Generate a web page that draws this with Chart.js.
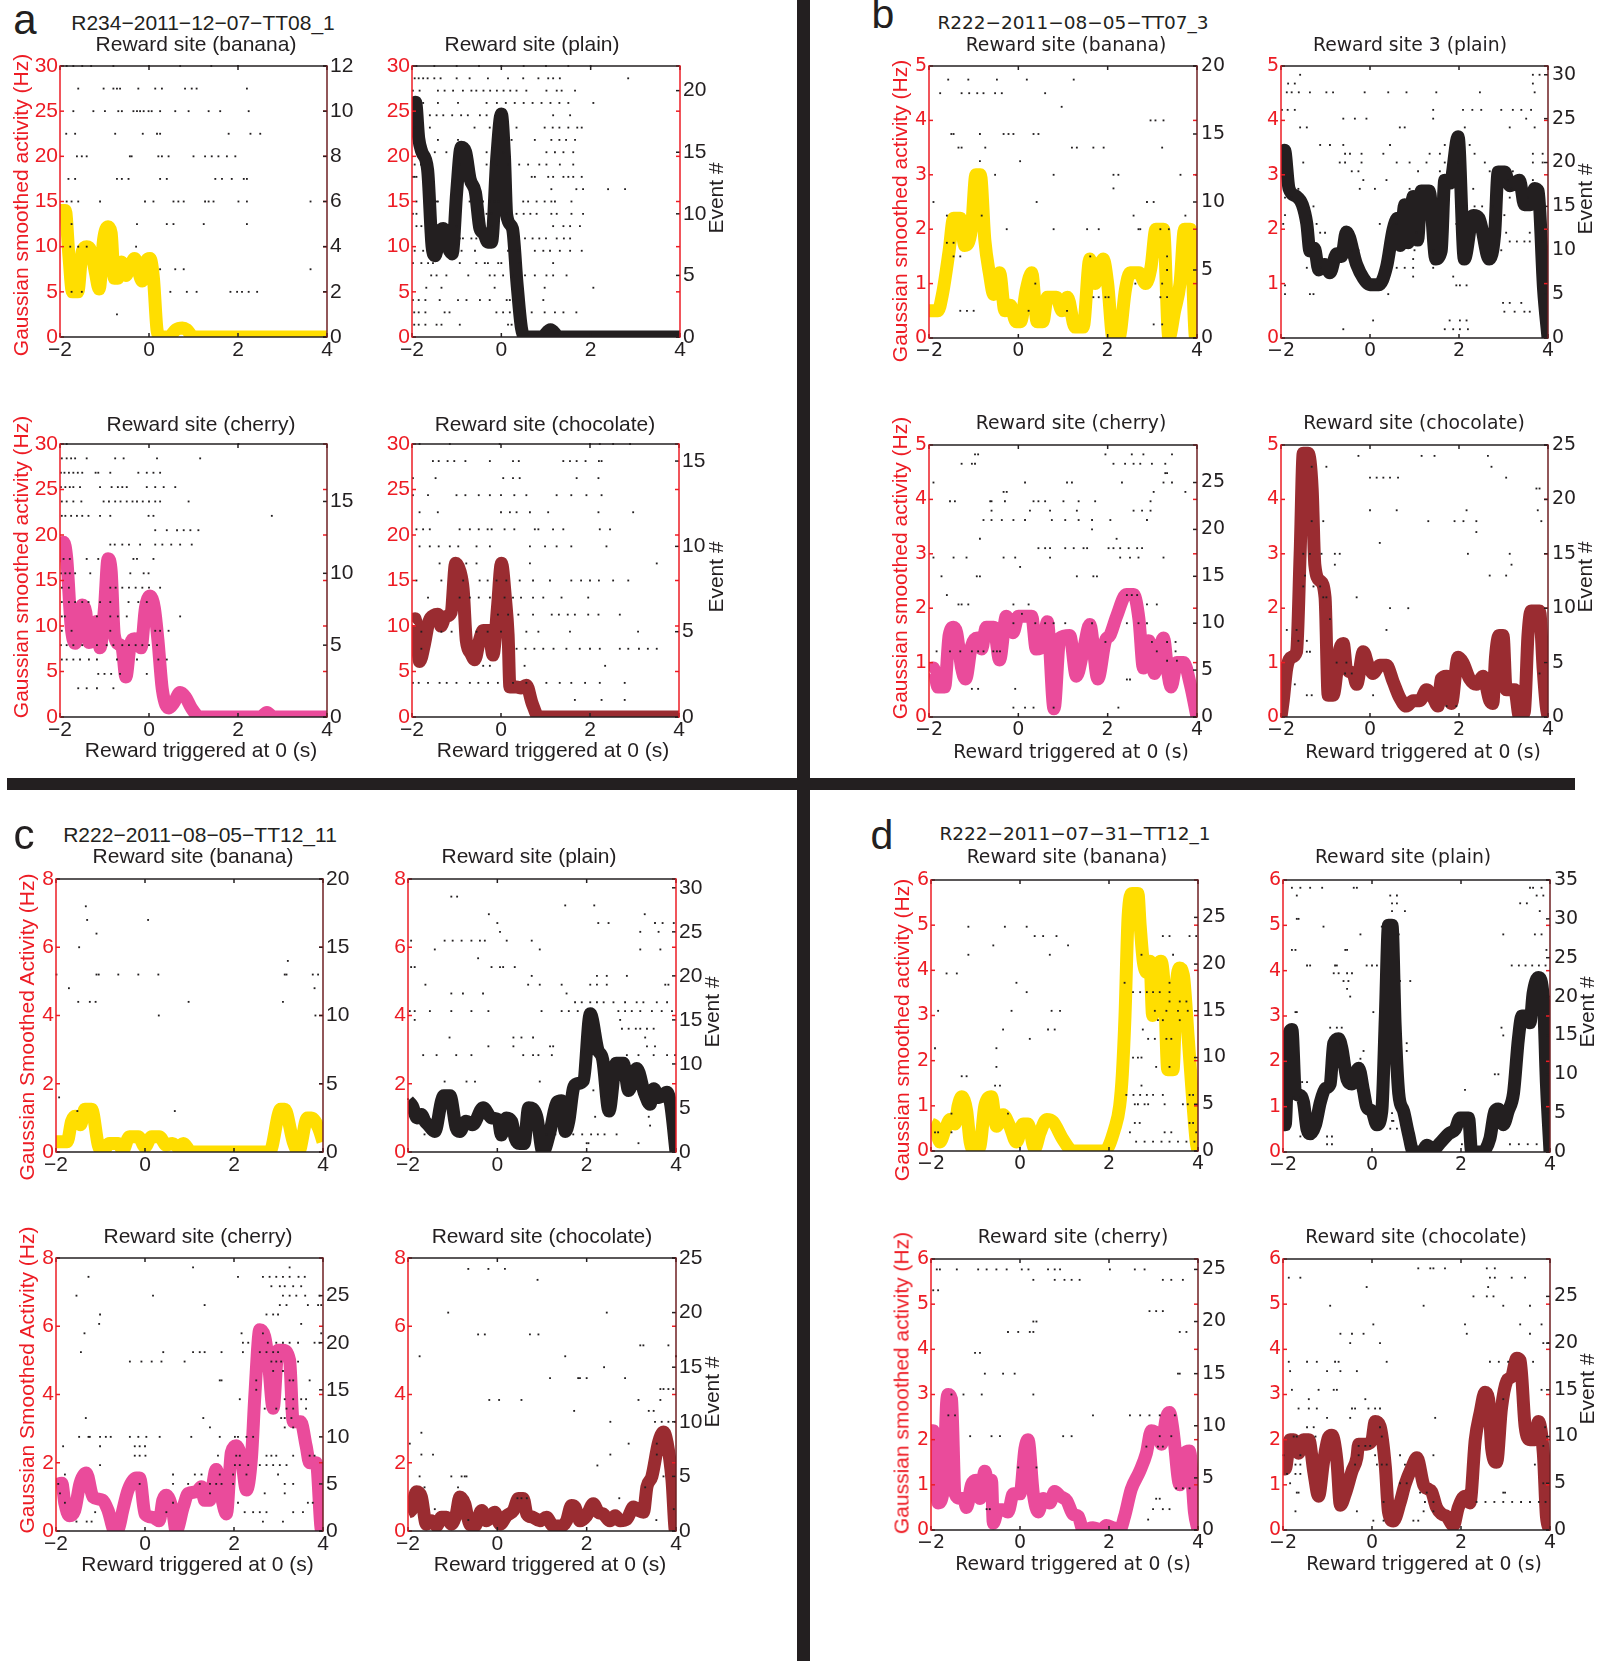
<!DOCTYPE html>
<html lang="en">
<head>
<meta charset="UTF-8">
<title>Reward-triggered activity</title>
<script src="https://cdn.jsdelivr.net/npm/chart.js@4.4.1/dist/chart.umd.min.js"></script>
<style>
  * { margin: 0; padding: 0; box-sizing: border-box; }
  body { width: 1598px; height: 1661px; background: #fff; position: relative; overflow: hidden; }
  .plot { position: absolute; }
  .txt { position: absolute; white-space: nowrap; line-height: 1; }
  .bar { position: absolute; background: #231f20; }
</style>
</head>
<body>
<div class="bar" style="left:797px;top:0;width:13px;height:1661px"></div>
<div class="bar" style="left:7px;top:778px;width:1568px;height:12px"></div>
<script>
// ---- axis ticks ----
const timeTicks = [-2, 0, 2, 4];
const hzTicksA = [0, 5, 10, 15, 20, 25, 30];
const hzTicksB = [0, 1, 2, 3, 4, 5];
const hzTicksC = [0, 2, 4, 6, 8];
const hzTicksD = [0, 1, 2, 3, 4, 5, 6];
const evTicks12 = [0, 2, 4, 6, 8, 10, 12];
const evTicks15 = [0, 5, 10, 15];
const evTicks20 = [0, 5, 10, 15, 20];
const evTicks25 = [0, 5, 10, 15, 20, 25];
const evTicks30 = [0, 5, 10, 15, 20, 25, 30];
const evTicks35 = [0, 5, 10, 15, 20, 25, 30, 35];

// ---- smoothed rate, [time (s), Hz] ----
const aBananaRate = [[-2,14],[-1.88,14],[-1.8,9],[-1.72,5],[-1.6,5],[-1.5,9.5],[-1.4,10],[-1.3,9.5],[-1.2,7],[-1.12,5.3],[-1.02,10.8],[-0.92,12.2],[-0.85,11.5],[-0.78,6.5],[-0.7,6.5],[-0.62,8.3],[-0.52,6.8],[-0.45,7.5],[-0.32,8.7],[-0.25,7.5],[-0.15,6.2],[-0.05,8.5],[0.02,8.7],[0.1,6.5],[0.18,0.8],[0.25,0],[0.45,0],[0.6,0.8],[0.75,1],[0.85,0.8],[1.0,0],[4,0]];
const aPlainRate = [[-2,24],[-1.92,26],[-1.85,22],[-1.78,20.5],[-1.65,18.5],[-1.55,10],[-1.48,9],[-1.38,11.5],[-1.3,12],[-1.2,10],[-1.1,9.2],[-1.0,16],[-0.9,21],[-0.8,20.5],[-0.7,17.5],[-0.58,16],[-0.48,12],[-0.4,11.5],[-0.3,10.5],[-0.22,10.5],[-0.1,20],[0.0,24.7],[0.07,20],[0.12,13.5],[0.25,12],[0.35,6],[0.45,1],[0.55,0],[0.9,0],[1.1,0.8],[1.3,0],[4,0]];
const aCherryRate = [[-2,17],[-1.92,19.2],[-1.85,17.5],[-1.75,10],[-1.66,8.1],[-1.58,10.5],[-1.5,12.3],[-1.42,11.5],[-1.35,8.2],[-1.25,8.5],[-1.18,10.5],[-1.1,7.6],[-1.0,12],[-0.92,17.4],[-0.85,16],[-0.78,9],[-0.68,8],[-0.6,7.5],[-0.52,4.4],[-0.42,8],[-0.33,8.6],[-0.25,8.5],[-0.18,7.6],[-0.08,12],[0.02,13.3],[0.12,12],[0.2,8.5],[0.3,3],[0.45,1],[0.55,1.5],[0.7,2.7],[0.82,2.2],[0.95,1],[1.15,0],[2.5,0],[2.65,0.5],[2.8,0],[4,0]];
const aChocRate = [[-2,10.5],[-1.93,10.8],[-1.83,6.1],[-1.72,8],[-1.62,10.5],[-1.5,11.2],[-1.42,11.3],[-1.35,10],[-1.25,11],[-1.12,11.5],[-1.02,16.9],[-0.92,16],[-0.85,14],[-0.78,8.4],[-0.68,7],[-0.59,6.3],[-0.48,8.5],[-0.4,9.5],[-0.28,9.5],[-0.18,6.8],[-0.08,12],[0.01,16.9],[0.1,13],[0.16,9],[0.2,3.3],[0.35,3.3],[0.45,3.2],[0.57,3.5],[0.7,1.5],[0.85,0],[4,0]];
const bBananaRate = [[-2,0.5],[-1.8,0.5],[-1.7,0.8],[-1.55,1.6],[-1.45,2.2],[-1.3,2.2],[-1.2,1.7],[-1.05,2.0],[-0.95,3.0],[-0.85,3.0],[-0.75,1.8],[-0.65,1.2],[-0.55,0.8],[-0.42,1.2],[-0.3,0.5],[-0.18,0.6],[-0.05,0.3],[0.05,0.3],[0.18,0.9],[0.3,1.2],[0.42,0.3],[0.55,0.3],[0.65,0.75],[0.85,0.75],[0.98,0.5],[1.1,0.75],[1.27,0.2],[1.45,0.2],[1.6,1.45],[1.72,1.0],[1.9,1.45],[2.0,1.0],[2.12,0],[2.25,0],[2.4,0.9],[2.5,1.2],[2.7,1.2],[2.85,1.0],[2.97,1.3],[3.08,2.0],[3.25,2.0],[3.37,0],[3.5,0.5],[3.62,1.0],[3.72,2.0],[3.85,2.0],[3.97,0],[4,0]];
const bPlainRate = [[-2,3.1],[-1.92,3.45],[-1.82,2.75],[-1.65,2.6],[-1.52,2.45],[-1.42,2.1],[-1.35,1.6],[-1.25,1.65],[-1.15,1.25],[-1.02,1.35],[-0.9,1.2],[-0.75,1.55],[-0.64,1.5],[-0.53,1.95],[-0.3,1.35],[-0.15,1.1],[0.0,0.98],[0.2,0.98],[0.37,1.3],[0.52,2.0],[0.62,2.2],[0.68,1.7],[0.78,2.45],[0.86,1.75],[0.97,2.6],[1.07,1.8],[1.15,2.7],[1.33,2.7],[1.48,1.45],[1.6,1.6],[1.68,2.9],[1.8,2.85],[1.98,3.7],[2.12,1.45],[2.32,2.25],[2.45,2.2],[2.68,1.45],[2.8,1.9],[2.88,3.05],[3.03,3.05],[3.14,2.8],[3.36,2.9],[3.47,2.45],[3.6,2.45],[3.7,2.75],[3.78,2.7],[3.9,0.9],[4,0]];
const bCherryRate = [[-2,0.85],[-1.9,0.9],[-1.8,0.55],[-1.65,0.55],[-1.55,1.5],[-1.45,1.65],[-1.38,1.55],[-1.27,0.9],[-1.18,0.7],[-1.05,1.3],[-0.92,1.45],[-0.82,1.25],[-0.72,1.65],[-0.55,1.65],[-0.42,1.05],[-0.27,1.85],[-0.12,1.55],[0.0,1.85],[0.3,1.85],[0.4,1.25],[0.55,1.3],[0.65,1.75],[0.8,0.15],[0.93,1.45],[1.15,1.5],[1.3,0.75],[1.45,1.2],[1.6,1.7],[1.78,0.7],[1.95,1.4],[2.05,1.5],[2.2,1.85],[2.42,2.25],[2.58,2.25],[2.7,1.8],[2.8,0.9],[2.92,1.4],[3.05,0.8],[3.15,1.2],[3.25,1.45],[3.35,0.8],[3.42,0.55],[3.55,1.0],[3.7,1.0],[3.85,0.6],[4,0]];
const bChocRate = [[-2,0],[-1.95,0.3],[-1.87,0.9],[-1.76,1.1],[-1.65,1.2],[-1.57,3.0],[-1.5,4.85],[-1.39,4.85],[-1.3,4.2],[-1.24,2.8],[-1.12,2.5],[-1.01,2.2],[-0.94,0.4],[-0.83,0.4],[-0.68,1.25],[-0.6,1.35],[-0.53,0.9],[-0.38,0.8],[-0.3,0.6],[-0.15,1.2],[-0.04,0.95],[0.07,0.8],[0.22,0.95],[0.37,0.95],[0.52,0.65],[0.67,0.35],[0.82,0.2],[0.97,0.3],[1.12,0.3],[1.27,0.5],[1.42,0.35],[1.53,0.2],[1.6,0.7],[1.72,0.75],[1.83,0.25],[1.98,1.1],[2.09,1.0],[2.24,0.7],[2.39,0.6],[2.54,0.75],[2.69,0.3],[2.76,0.25],[2.82,1.1],[2.9,1.5],[2.99,1.5],[3.06,0.5],[3.25,0.5],[3.36,0],[3.47,0.1],[3.55,1.5],[3.62,1.95],[3.81,1.95],[3.89,0.9],[3.96,0.2],[4,0]];
const cBananaRate = [[-2,0.3],[-1.75,0.3],[-1.65,0.9],[-1.57,1.05],[-1.45,0.8],[-1.35,1.25],[-1.2,1.25],[-1.05,0.2],[-0.95,0],[-0.8,0.25],[-0.6,0.25],[-0.5,0.05],[-0.35,0.45],[-0.15,0.45],[0.0,0.15],[0.15,0.45],[0.32,0.45],[0.48,0.2],[0.62,0.25],[0.74,0.15],[0.86,0.25],[1.04,0],[2.8,0],[3.05,1.25],[3.14,1.25],[3.33,0.3],[3.45,0],[3.65,1.0],[3.74,1.0],[3.9,0.7],[4,0.3]];
const cPlainRate = [[-2,1.5],[-1.9,1.35],[-1.8,1.0],[-1.7,1.1],[-1.62,0.9],[-1.55,0.8],[-1.4,0.6],[-1.25,1.5],[-1.2,1.65],[-1.06,1.65],[-0.92,0.7],[-0.84,0.6],[-0.7,0.9],[-0.55,0.8],[-0.32,1.3],[-0.13,1.0],[0.02,0.95],[0.09,0.5],[0.2,1.0],[0.32,0.9],[0.4,0.4],[0.5,0.25],[0.6,0.25],[0.7,1.3],[0.88,1.05],[1.02,0],[1.18,0.6],[1.33,1.45],[1.44,1.5],[1.52,0.6],[1.6,0.9],[1.7,1.85],[1.78,2.0],[1.93,2.1],[2.08,4.05],[2.25,3.0],[2.36,2.7],[2.5,1.2],[2.66,2.6],[2.82,2.6],[2.94,1.8],[3.12,2.45],[3.3,1.7],[3.42,1.4],[3.5,1.85],[3.62,1.6],[3.8,1.75],[3.88,1.4],[4,0]];
const cCherryRate = [[-2,1.35],[-1.87,1.4],[-1.8,0.8],[-1.7,0.45],[-1.58,0.6],[-1.46,1.4],[-1.32,1.7],[-1.17,1.0],[-0.95,0.9],[-0.83,0.6],[-0.68,0],[-0.6,0.05],[-0.5,0.6],[-0.38,1.2],[-0.2,1.55],[-0.12,1.55],[0.0,0.5],[0.18,0.4],[0.32,0.3],[0.4,0.9],[0.48,1.05],[0.62,0.6],[0.7,0],[0.86,0.7],[0.97,1.1],[1.16,1.15],[1.27,1.3],[1.34,0.9],[1.45,0.9],[1.6,1.8],[1.72,1.0],[1.83,0.5],[1.94,2.3],[2.05,2.5],[2.17,2.1],[2.28,1.2],[2.39,2.1],[2.47,4.0],[2.58,5.9],[2.69,5.7],[2.77,5.0],[2.88,3.6],[2.99,5.3],[3.1,5.3],[3.25,5.0],[3.33,3.2],[3.5,3.2],[3.62,2.5],[3.7,2.0],[3.85,2.0],[3.97,0],[4,0]];
const cChocRate = [[-2,0.55],[-1.93,0.6],[-1.81,1.15],[-1.7,1.0],[-1.59,0.2],[-1.48,0.3],[-1.36,0.15],[-1.25,0.4],[-1.14,0.4],[-1.03,0.2],[-0.92,0.5],[-0.84,1.0],[-0.73,0.8],[-0.62,0.2],[-0.5,0.15],[-0.35,0.6],[-0.24,0.3],[-0.06,0.55],[0.06,0.2],[0.21,0.45],[0.36,0.6],[0.47,0.95],[0.58,0.95],[0.66,0.5],[0.8,0.4],[0.95,0.3],[1.1,0.4],[1.25,0.15],[1.44,0.15],[1.55,0.3],[1.66,0.75],[1.74,0.7],[1.85,0.3],[2.0,0.45],[2.15,0.8],[2.26,0.55],[2.37,0.5],[2.52,0.3],[2.64,0.45],[2.75,0.3],[2.9,0.35],[3.05,0.7],[3.16,0.6],[3.27,0.55],[3.35,1.3],[3.46,1.6],[3.61,2.6],[3.72,2.9],[3.8,2.6],[3.91,1.5],[3.99,0],[4,0]];
const dBananaRate = [[-2,0.6],[-1.91,0.55],[-1.8,0.2],[-1.69,0.45],[-1.57,0.7],[-1.46,0.6],[-1.39,1.0],[-1.31,1.2],[-1.2,0.9],[-1.12,0.2],[-1.01,0],[-0.9,0.1],[-0.79,1.0],[-0.64,1.2],[-0.53,0.55],[-0.38,0.8],[-0.23,0.55],[-0.08,0.2],[0.07,0.6],[0.18,0.6],[0.33,0.05],[0.45,0.4],[0.6,0.7],[0.74,0.65],[0.97,0.25],[1.19,0],[1.9,0],[2.13,0.5],[2.24,1.0],[2.3,1.7],[2.36,3.0],[2.43,5.2],[2.52,5.7],[2.65,5.7],[2.7,5.0],[2.77,4.2],[2.86,3.95],[2.92,4.2],[2.98,3.0],[3.08,4.0],[3.17,4.2],[3.25,3.5],[3.32,1.8],[3.44,1.8],[3.51,3.6],[3.59,4.05],[3.67,3.9],[3.78,2.5],[3.89,1.0],[3.96,0.2],[4,0]];
const dPlainRate = [[-2,0.6],[-1.95,0.6],[-1.87,2.6],[-1.8,2.7],[-1.72,1.3],[-1.61,1.25],[-1.54,1.1],[-1.46,0.5],[-1.39,0.4],[-1.27,0.6],[-1.16,1.1],[-1.05,1.4],[-0.94,1.5],[-0.86,2.4],[-0.75,2.5],[-0.68,2.3],[-0.56,1.6],[-0.45,1.5],[-0.3,1.85],[-0.19,1.35],[-0.12,1.0],[0.0,0.9],[0.11,0.6],[0.22,0.9],[0.3,3.0],[0.37,5.0],[0.45,5.0],[0.52,2.8],[0.6,1.3],[0.71,0.9],[0.82,0.4],[0.93,0],[1.12,0],[1.23,0.15],[1.38,0.05],[1.53,0.2],[1.72,0.4],[1.87,0.5],[1.98,0.75],[2.17,0.75],[2.24,0],[2.47,0],[2.65,0.3],[2.76,0.9],[2.84,0.95],[2.95,0.6],[3.06,0.9],[3.18,1.3],[3.29,2.5],[3.37,3.0],[3.48,3.0],[3.55,2.85],[3.62,3.5],[3.74,3.85],[3.85,3.4],[3.92,1.5],[4,0]];
const dCherryRate = [[-2,2.2],[-1.95,2.2],[-1.84,0.6],[-1.72,0.9],[-1.65,2.8],[-1.61,3.0],[-1.54,2.9],[-1.46,0.8],[-1.35,0.7],[-1.27,0.7],[-1.2,0.5],[-1.09,1.0],[-0.98,1.1],[-0.9,0.7],[-0.79,1.3],[-0.71,1.0],[-0.64,1.1],[-0.6,0.15],[-0.49,0.45],[-0.38,0.45],[-0.27,0.4],[-0.15,0.8],[0.0,0.8],[0.11,1.8],[0.18,2.0],[0.3,0.8],[0.41,0.4],[0.52,0.7],[0.67,0.6],[0.78,0.85],[0.9,0.75],[1.05,0.65],[1.19,0.35],[1.31,0.3],[1.42,0],[1.64,0.05],[1.83,0],[1.94,0.1],[2.09,0.05],[2.24,0],[2.35,0.3],[2.5,0.9],[2.69,1.3],[2.84,1.7],[2.95,2.2],[3.1,2.1],[3.18,1.9],[3.29,2.5],[3.36,2.6],[3.44,2.2],[3.59,1.0],[3.7,1.7],[3.81,1.75],[3.92,0.4],[4,0]];
const dChocRate = [[-2,1.5],[-1.95,1.35],[-1.84,2.0],[-1.76,2.0],[-1.65,1.7],[-1.54,2.0],[-1.42,2.0],[-1.31,1.3],[-1.2,0.75],[-1.09,1.5],[-0.98,2.05],[-0.9,2.1],[-0.79,1.55],[-0.71,0.55],[-0.6,0.8],[-0.45,1.3],[-0.34,1.6],[-0.3,1.9],[-0.12,1.9],[0.0,2.0],[0.07,2.4],[0.18,2.3],[0.3,1.4],[0.37,0.4],[0.48,0.2],[0.63,0.6],[0.74,1.0],[0.9,1.4],[1.01,1.6],[1.16,1.0],[1.27,0.9],[1.34,0.85],[1.45,0.5],[1.57,0.35],[1.68,0.3],[1.83,0.1],[1.94,0.5],[2.09,0.75],[2.2,0.6],[2.32,2.0],[2.43,2.6],[2.54,3.05],[2.62,2.9],[2.69,1.8],[2.8,1.5],[2.91,2.7],[3.03,3.3],[3.14,3.4],[3.25,3.8],[3.33,3.75],[3.44,2.3],[3.55,2.0],[3.66,2.0],[3.74,2.4],[3.85,1.7],[3.92,0.3],[4,0]];

// ---- raster: [event #, spike times (s)...] ----
const aBananaSpikes = [[12,-1.85,-1.7,-1.5,-1.3,-0.8,0.0,0.7,1.4,2.0],[11,-1.59,-1.02,-0.8,-0.72,-0.65,-0.24,0.14,0.29,0.81,0.96,1.07,2.2],[10,-1.7,-1.25,-0.99,-0.69,-0.61,-0.35,-0.27,-0.2,-0.12,-0.01,0.06,0.25,0.59,0.89,1.34,1.6,2.24],[9,-1.86,-1.66,-0.76,-0.14,0.18,0.25,1.79,2.28,2.5],[8,-1.62,-1.51,-1.4,-0.43,-0.39,0.21,0.29,0.44,1.0,1.26,1.41,1.56,1.75,1.94],[7,-1.81,-1.66,-0.72,-0.61,-0.46,0.25,0.4,1.49,1.64,1.86,2.13,2.2],[6,-1.85,-1.74,-1.59,-1.1,-0.09,0.1,0.55,0.66,0.78,1.26,1.34,1.45,2.01,2.2,3.63],[5,-1.74,-0.27,0.4,0.55,1.23,2.2],[4,-1.77,-1.59,-1.4,-0.29],[3,0.25,0.59,0.78,3.63],[2,-1.74,-1.51,0.48,0.85,1.07,1.83,1.98,2.09,2.24,2.43],[1,-0.72]];
const aPlainSpikes = [[22,-1.9,-1.5,-1.0,-0.5,0.0,0.5,1.0,1.5,2.0],[21,-1.94,-1.85,-1.75,-1.65,-1.5,-1.36,-1.0,-0.71,-0.3,0.15,0.49,0.83,1.05,1.16,1.31,2.84],[20,-1.98,-1.83,-1.42,-1.27,-1.08,-0.86,-0.67,-0.56,-0.4,-0.25,-0.1,0.05,0.2,0.34,0.56,1.01,1.24,1.35,1.65],[19,-1.75,-1.42,-0.97,-0.33,-0.1,0.1,0.3,0.5,0.7,0.9,1.1,1.3,1.5,2.06],[18,-1.6,-1.45,-1.3,-1.1,-0.9,-0.75,-0.48,-0.33,1.16,1.54],[17,-1.95,-1.8,-1.6,-0.6,-0.26,-0.07,0.34,0.97,1.15,1.3,1.5,1.7,1.8],[16,-1.42,-0.97,-0.15,0.15,0.23,0.75,1.12,1.3,1.45,1.65],[15,-1.49,-1.23,-0.33,0.04,1.01,1.2,1.39,1.61],[14,-1.94,-1.8,-1.6,-0.93,-0.67,-0.33,-0.1,0.15,0.4,0.6,0.85,1.01,1.31,1.61],[13,-1.98,-1.94,-1.9,0.68,0.75,1.05,1.16,1.39,1.5,1.61,1.8],[12,1.12,1.68,1.83,2.39,2.77],[11,-1.9,-1.45,-1.42,-0.71,-0.48,-0.41,-0.26,-0.15,-0.07,0.49,0.6,0.79,0.97,1.12,1.2,1.57],[10,-1.98,-1.9,-0.63,-0.33,-0.22,0.12,0.23,0.34,0.5,0.65,0.79,1.12,1.24,1.57,1.83],[9,-1.9,-1.79,-1.0,-0.56,-0.22,0.12,1.16,1.39,1.54,1.76],[8,-0.93,-0.86,-0.67,-0.56,0.53,0.7,0.85,1.0,1.24,1.4,1.54],[7,-1.94,-1.75,-0.89,-0.59,0.15,0.38,0.75,0.94,1.09,1.31,1.54,1.8],[6,-1.98,-1.79,-1.64,-1.53,-0.93,-0.56,-0.37,-0.3,-0.07,0.0,0.41,1.16],[5,-1.57,-1.45,-1.23,-0.74,-0.26,-0.15,0.04,0.26,0.53,0.75,1.01,1.16,1.46],[4,-1.68,-1.34,-0.15,0.26,0.97,2.06],[3,-1.98,-1.85,-1.7,-1.38,-0.97,-0.78,-0.48,-0.26,0.12,0.19,0.94],[2,-1.95,-1.85,-1.7,-1.27,-1.16,-0.11,0.04,0.19,0.68,0.97,1.2,1.39,1.68],[1,-1.95,-1.85,-1.7,-1.45,-1.34,-0.93,0.15,0.23,0.49]];
const aCherrySpikes = [[19,-1.85,2.01],[18,-1.96,-1.85,-1.75,-1.66,-1.4,-0.76,-0.57,0.18,1.15],[17,-1.98,-1.9,-1.8,-1.7,-1.6,-1.5,-1.2,-1.14,-0.87,-0.24,-0.05,0.1,0.25],[16,-1.98,-1.88,-1.78,-1.7,-1.55,-1.1,-0.84,-0.7,-0.6,-0.5,-0.05,0.14,0.33,0.59],[15,-1.96,-1.85,-1.7,-1.52,-1.02,-0.9,-0.76,-0.64,-0.5,-0.37,-0.27,-0.14,0.0,0.14,0.25,0.89],[14,-1.96,-1.88,-1.75,-1.62,-1.5,-1.36,-1.1,-0.87,-0.01,0.1,2.76],[13,0.14,0.4,0.63,0.78,0.93,1.11],[12,-0.87,-0.77,-0.6,-0.45,-0.2,0.14,0.3,0.5,0.7,0.96],[11,-1.92,-1.78,-1.4,-1.14,-0.35,-0.27,0.1],[10,-1.98,-1.88,-1.78,-1.66,-1.32,-0.42,-0.12,-0.01],[9,-1.96,-1.8,-0.87,-0.75,-0.6,-0.45,-0.3,-0.15,0.0,0.25],[8,-1.96,-1.8,-1.66,-1.5,-1.36,-1.1,-0.87,-0.46,-0.24,-0.05],[7,-1.96,-1.89,-1.17,-0.87,-0.7,-0.5,0.7],[6,-1.96,-1.74,-0.87,0.14,0.25,0.44],[5,-1.98,-1.85,-1.7,-1.5,-1.17,-0.95,-0.8,-0.6,-0.45,-0.3,-0.15,0.0,0.18],[4,-1.96,-1.85,-1.7,-1.55,-1.35,-1.17,-0.72,-0.27,0.21,0.4],[3,-1.14,-1.0,-0.85,-0.65,-0.05],[2,-1.59,-1.4,-1.17,-0.8]];
const aChocSpikes = [[16,-1.83,-1.15,-0.03,2.0,2.22,2.52,2.9],[15,-1.53,-1.4,-1.2,-1.05,-0.8,-0.25,0.27,0.4,1.4,1.55,1.7,1.9,2.2,2.26],[14,-1.98,-1.47,0.05,0.27,0.42,1.7,2.19],[13,-1.98,-1.64,-1.0,-0.8,-0.5,-0.25,0.0,0.3,0.57,1.25,1.58,1.92,2.26],[12,-1.83,-1.42,0.0,0.2,0.35,0.65,1.06,2.19,2.97],[11,-1.9,-1.75,-1.6,-0.93,-0.7,-0.5,-0.3,-0.21,0.08,0.3,0.76,0.84,1.17,1.4,2.22,2.45],[10,-1.83,-1.6,-1.4,-1.15,-0.96,-0.55,-0.25,0.65,0.99,1.25,1.58,2.37],[9,-1.38,-0.78,-0.55,0.65,3.5],[8,-1.9,-1.34,-0.85,-0.48,-0.3,-0.1,0.12,0.42,0.72,1.1,1.58,1.8,2.0,2.2,2.52,2.86],[7,-1.64,-0.93,-0.7,-0.5,-0.25,0.08,0.27,0.45,0.72,0.95,1.36,1.96],[6,-0.07,0.16,0.39,0.72,1.14,1.3,1.5,1.66,1.96,2.19,2.67],[5,-1.79,-1.34,-1.11,-0.55,-0.3,0.0,0.57,0.84,1.55,3.08],[4,-1.79,0.35,0.55,0.75,0.95,1.18,1.47,1.77,2.0,2.22,2.67,2.86,3.1,3.3,3.5],[3,-0.4,-0.25,0.53,2.34],[2,-1.98,-1.85,-1.64,-1.38,-1.22,-1.0,-0.7,-0.51,-0.29,-0.07,0.27,0.57,1.02,1.32,1.58,1.89,2.22,2.78],[1,1.66,2.26,2.78]];
const bBananaSpikes = [[19,-1.57,-1.12,-0.48,0.19,1.24],[18,-1.75,-1.27,-1.1,-0.92,-0.78,-0.52,-0.37,0.6],[17,0.97],[16,2.96,3.07,3.25],[15,-1.5,-1.45,-0.86,-0.33,-0.22,-0.11,0.34,0.45],[14,-1.34,-1.27,-0.74,1.2,1.31,1.68,1.91,3.22],[13,-0.86,0.04],[12,-0.52,0.79,2.13,2.24,3.63,3.98],[11,2.13],[10,-1.9,0.41,2.88,3.03],[9,-1.6,-0.82,2.58,3.74],[8,-0.26,0.79,1.54,1.8,2.69,2.73,3.18,3.37],[7,-1.6,-1.45],[6,-1.45,-1.3,1.61,3.33],[5,3.33],[4,0.38,2.62,3.22],[3,1.68,1.8,1.95,2.02,3.18,3.33],[2,-1.3,-1.15,-1.0,0.23,1.09],[1,3.03,3.22]];
const bPlainSpikes = [[30,-1.57,3.66,3.81],[29,-1.84,-1.69,3.66],[28,-1.87,-1.76,-1.6,-1.35,-0.98,-0.83,-0.12,0.41,0.82,1.49,2.47,3.7],[26,-1.98,-1.85,-1.69,1.42,2.09,2.3,2.5,2.95,3.21,3.4,3.62],[25,-0.6,-0.34,-0.08,1.42,3.51],[24,-1.57,-1.42,0.67,0.78,2.13,3.14,3.7],[22,-1.12,-0.9,-0.6,0.45,1.68,2.24],[21,-0.56,-0.45,-0.19,0.3,1.34,1.57,2.35,3.66,3.88],[20,-1.5,-0.68,-0.56,-0.19,0.6,0.89,1.27,1.68,1.98,2.58,3.66,3.88],[19,-0.41,-0.26,1.08,1.57,2.69,3.21],[18,-0.15,0.37,3.1,3.4,3.66],[17,-1.84,-1.61,-0.23,0.11,0.89,1.42,2.32,3.18,3.55,3.88],[16,-1.91,-1.76,3.14,3.55],[15,-1.57,-1.27,2.09,2.35,2.52,2.76],[14,-1.91,-1.35,3.02],[13,-1.95,-1.2,0.22,0.6,1.94],[12,-1.12,-1.01,1.04,1.19,3.06,3.59],[11,3.14,3.3,3.47,3.59,3.88],[10,-0.41,-0.26,1.0,1.42,2.95],[9,0.48,0.97],[8,-1.42,-1.12,0.6,0.78,0.97,1.42],[7,0.97,1.87],[6,-1.91,1.94,2.02,2.17],[5,-1.91,-1.35,-1.27,0.41],[4,2.99,3.14,3.4],[3,3.02,3.25,3.47,3.59],[2,0.07,1.79,2.02,2.17],[1,-0.6,1.68,1.87,2.02,2.2]];
const bCherrySpikes = [[28,-0.97,-0.9,1.95,2.54,2.8,3.44],[27,-1.27,-1.04,-0.97,2.13,2.39,2.58,2.73,2.99,3.29],[26,3.29,3.33],[25,-1.9,0.15,1.09,1.2,2.32,3.25,3.44],[24,-0.33,-0.26,3.03,3.74],[23,-1.53,-1.42,-0.63,-0.6,-0.3,0.34,0.45,0.6,1.01,1.35,1.72,2.96],[22,-0.6,0.26,0.71,1.31,2.58,2.77,2.96],[21,-0.78,-0.6,-0.37,-0.11,0.15,0.75,1.05,1.35,1.65,2.06,2.88],[20,1.65],[19,-0.86,2.2],[18,0.45,0.6,0.71,1.05,1.24,1.46,1.54,2.02,2.13,2.28,2.47,2.66,2.77],[17,-1.9,-1.45,-1.16,-0.33,-0.07,0.71,2.28,2.5,2.69,3.25],[16,0.04],[15,-1.72,-0.93,-0.86,1.31,1.68,1.76],[13,-1.6,2.43,2.54,2.66],[12,-1.34,-1.27,-1.12,-0.11,0.23,2.88,3.1],[11,0.08],[10,-0.11,0.38,0.6,0.79,1.05,1.65,2.43,2.69,2.88],[8,1.95,2.99,3.33,3.52],[7,-1.83,-1.53,-1.3,-1.04,-0.9,-0.78,-0.56,-0.48,-0.41,3.1,3.52],[6,3.33,3.55],[4,2.43,2.5],[3,-1.04,-0.9,-0.07],[1,-0.11,0.15,0.34,0.79,2.24]];
const bChocSpikes = [[24,-0.26,1.16,1.45,2.65],[23,-1.31,-0.98,2.73],[22,0.0,0.15,0.3,0.45,0.63,3.06],[21,3.74,3.81],[19,0.0,0.6,2.17,3.77],[18,-1.31,-1.05,1.31,1.9,2.1,2.39,3.85],[17,2.39],[16,0.22],[15,-1.5,-1.35,-1.09,-0.79,-0.68,2.2,3.14],[14,-0.79,3.18],[13,-1.46,2.69,3.06],[12,-1.5,-1.27,-1.12],[11,-1.05,-0.98,-0.3],[10,0.45,0.86],[9,-0.9],[8,-1.87,-1.65,0.37],[7,-1.61,-1.42],[6,-1.42,-1.35],[5,-0.75,-0.53],[4,-0.56,-0.41,3.81],[3,-1.69],[2,-1.42,-1.31,0.07],[1,1.72,1.94]];
const cBananaSpikes = [[18,-1.33],[17,-1.3,0.07],[16,-1.09],[15,-1.48],[14,3.21],[13,-1.99,-1.09,-1.04,-0.6,-0.15,0.3,3.14,3.18,3.77,3.89],[12,-1.71,3.81],[11,-1.5,-1.24,-1.11,0.98,3.1],[10,0.31,3.83],[4,-1.93],[3,-1.52,0.67]];
const cPlainSpikes = [[29,-1.03,-0.9],[28,1.52,2.17],[27,-0.19,3.3],[26,0.0,2.26,2.49,3.53,3.7,3.95],[25,0.06,3.2,3.61],[24,-1.93,-1.18,-1.0,-0.8,-0.58,-0.39,-0.28,0.21,0.77],[23,-1.4,0.95,3.2,3.65],[22,-0.43],[21,-1.93,-1.85,-0.13,0.06,0.13,0.39],[20,0.77,2.23,2.45,2.9],[19,-1.61,0.69,0.95,1.44,2.08,2.23,2.45,3.76,3.83],[18,-1.03,-0.77,-0.32,1.55],[17,1.74,1.89,2.08,2.23,2.38,2.6,2.86,3.12,3.27,3.57,3.8],[16,-1.96,-1.85,-1.51,-1.03,-0.58,-0.2,0.99,1.44,1.6,1.8,2.15,2.71,2.86,3.01,3.2,3.46,3.68,3.91],[15,-1.85,2.75],[14,2.79,2.94,3.1,3.2,3.35,3.5],[13,-1.07,0.36,0.54,0.8,3.31],[12,-0.2,0.36,1.18,1.25,3.35,3.53],[11,-1.66,-1.36,-0.92,-0.58,0.58,0.8,0.92,1.22,2.34,2.9,3.16,3.5,3.8,3.98],[8,-1.18,-0.69,-0.5,0.95],[7,2.15,2.9],[6,-2.0,-1.89],[4,2.19,3.39],[3,3.42],[2,-1.63,1.1,1.3,1.55,1.7,1.9,2.1,2.25,2.4,2.67],[1,2.0,2.04,3.16]];
const cCherrySpikes = [[28,1.08,3.25],[27,-1.27,2.09,2.65,2.8,2.95,3.1,3.25,3.45,3.59],[26,2.84,3.03,3.14,3.33,3.51],[25,-1.54,0.18,3.1,3.25,3.4,3.6,3.92],[24,1.34,3.03,3.18,3.66,3.89,3.96],[23,-1.01,2.73,2.88,2.99],[22,-1.03,3.51],[21,-1.36,2.17,2.65,3.96],[20,2.2,2.32,2.76,2.95,3.1,3.25,3.44,3.81,3.92],[19,-1.44,0.41,1.08,1.23,1.34,1.72,2.2,2.58,2.73,2.88,2.99],[18,-0.34,-0.08,0.15,0.37,0.89,2.84,2.95,3.06,3.44],[17,2.88,3.1],[16,1.68,1.72,2.5,3.25,3.33,3.7],[15,2.5],[14,2.13,3.14,3.33,3.51,3.62],[13,2.69,2.95,3.18,3.33,3.62],[12,-1.33,1.31,3.06,3.14,3.29],[11,1.46,3.14,3.33],[10,-1.48,-1.27,-1.24,-1.01,-0.88,-0.77,-0.34,-0.15,0.03,0.33,1.04,1.68,2.02,2.09,2.28,2.43],[9,-1.84,-1.01,-0.23,-0.12,0.0],[8,-0.23,-0.12,0.01,1.64,2.05,2.13,2.73,2.84,2.95,3.33,3.7,3.81],[7,-1.01,2.02,2.13,2.32,2.58,2.73,2.88,3.03,3.18],[6,-1.8,0.63,1.12,1.27,1.68,1.98,2.28,2.99],[5,-1.95,-0.12,0.63,0.97,1.23,1.46,1.6,1.72,1.98,3.14,3.33],[4,-1.91,1.46,2.69,3.14],[3,-1.8,0.63,2.09,3.66,3.77],[2,-1.12,0.48,2.24,2.43,2.58,2.73,3.33,3.55],[1,-1.54,-1.31,-1.2,2.65,3.1]];
const cChocSpikes = [[24,-0.65,-0.2,0.17],[23,0.9],[20,-1.1,2.45],[18,-0.43,-0.28,0.73,0.92],[17,3.2,3.27,3.83],[16,-1.74,1.52,4.0],[15,2.39],[14,1.18,1.81,1.85,2.0,2.86],[13,3.65,3.72,3.83,3.94],[12,-0.18,0.04,0.54,3.16,3.65],[11,1.72,3.39,3.5],[10,2.53,3.53,3.68,3.83,3.98],[9,-1.7],[8,-1.96,2.94,3.57],[7,-1.7,-1.44,2.53,3.57],[6,2.24],[5,-1.74,-1.03,-0.8,-0.73,-0.69,3.72],[4,-1.63,-0.88,3.31],[3,0.45,0.54,0.66,2.73],[2,-1.4,3.95],[1,-0.65,3.56]];
const dBananaSpikes = [[24,-1.16,-0.34,0.15],[23,0.33,0.52,0.82,3.21,3.36,3.81,3.96],[22,-0.6,1.08],[21,-1.16,0.67,2.73,3.44],[19,-1.65,-1.42],[18,-0.08,2.35,3.36],[17,0.15,2.54,2.7,2.85,2.99,3.14,3.36],[16,3.36,3.59,3.74],[15,-1.84,-0.19,0.71,0.9,3.03,3.29,3.55,3.77],[14,3.1,3.21,3.59],[13,-0.38,0.63,0.78,2.76],[12,0.22,2.88,3.03,3.29,3.4],[11,-1.91,-0.53],[10,2.54,2.65,2.73],[9,-0.53,3.06,3.36],[8,-1.31,-1.2],[7,-0.56,-0.45,2.73],[6,2.39,2.55,2.7,2.85,2.99,3.21,3.81,3.89],[5,2.58,2.65,2.8,2.88,3.25,3.66,3.77],[4,-1.54,-0.27],[3,2.58,2.69,3.81,3.89],[2,-1.91,-1.84,-1.54,2.47,3.25,3.4,3.96],[1,2.61,2.8,2.99,3.18,3.36,3.55,3.74,3.92]];
const dPlainSpikes = [[34,-1.8,-1.61,-1.39,-1.12,-0.41,-0.34,3.55,3.62,3.81],[33,-1.69,0.41,0.56,3.7,3.85],[32,0.45,0.56,3.33,3.48],[31,0.45,0.74,3.77],[30,-1.69,-1.65],[29,-1.09,0.22],[28,-0.26,0.6,2.95,3.66,3.81],[26,-1.8,-1.72,-0.6,-0.56,3.92],[24,-1.46,-1.39,-0.83,-0.79,-0.12,0.0,0.11,3.14,3.3,3.45,3.6,3.75,3.9],[23,-0.86,-0.75,-0.56,-0.45],[22,-0.64,-0.53,0.63,0.86],[21,-0.56],[20,-0.49],[18,-1.72,-1.69,0.03,0.18],[16,-0.94,-0.79,-0.68,2.91],[15,2.95],[14,-0.71,0.78],[13,-0.19,0.78],[12,-0.26,0.63],[10,2.76,2.84],[9,-1.57,-1.46],[8,2.09],[7,-1.76,-1.61],[6,-0.23,-0.12],[5,0.45,0.63],[4,0.15,0.45,0.48,0.67,0.82],[3,0.41,0.56],[2,-1.61,-1.01,-0.9],[1,-1.01,-0.9,1.53,2.02,2.2,3.1,3.3,3.5,3.7,3.9]];
const dCherrySpikes = [[25,-1.87,-1.8,-1.42,-0.94,-0.75,-0.53,-0.3,0.04,0.19,0.63,0.78,0.9,2.02,2.58,2.8],[24,0.3,0.78,1.0,1.16,1.34,3.21,3.4,3.66],[23,-1.95,-1.84],[21,2.91,3.06,3.21],[20,0.3,0.37],[19,-0.27,-0.04,0.22,0.3,3.59,3.74],[17,-1.01,-0.9],[15,-0.79,-0.38,-0.12,3.55,3.59],[13,-1.54,-1.27,-0.86,0.3],[11,-1.61,-1.46,1.64,2.47,2.7,2.91,3.14,3.48],[9,-1.12,-0.64,-0.45,0.97,1.16,3.14,3.4],[8,2.84,3.1,3.21],[6,-0.04,0.37],[4,3.51,3.66,3.81],[3,3.06,3.14],[2,-0.75,-0.68,2.99,3.21,3.36],[1,2.88]];
const dChocSpikes = [[28,1.04,1.31,1.38,1.64,2.58,2.76],[27,-1.87,-1.61,2.65,2.76,3.14,3.44],[26,-0.12,2.61],[25,2.28,2.58,2.73],[24,-0.94,1.16,2.95,3.55],[22,0.03,2.09,3.33,3.81],[21,-0.71,-0.45,-0.19,2.13,3.55],[20,-0.49,0.18,3.85,3.96],[18,-1.87,-1.46,-1.24,-0.83,-0.75,0.33,2.65,2.85,3.06,3.62],[17,-1.84,-1.01,-0.71,-0.34],[15,-1.8,-1.2,-0.86,-0.79,3.81],[14,-1.42,-0.15,2.95],[13,-1.65,-1.42,-1.24,-0.45,-0.38,-0.08,0.07,0.18],[12,-1.01,-0.49,1.42],[11,-1.46,-1.31,0.18,3.89],[10,-1.76,-1.69,-1.27,0.22],[9,-0.3,-0.15,-0.04,3.85],[8,-1.99,-1.61,-0.3,0.07,0.63,1.38],[7,-1.72,-1.61,-0.38,0.11,0.22,0.33,0.74,3.66],[6,-1.91,-1.72,-1.61],[5,-1.84,0.63,0.78,3.85],[4,-1.69,-1.65,1.08,1.23,2.95,2.99],[3,0.26,1.19,1.38,2.35,2.55,2.75,2.95,3.15,3.35,3.55,3.75,3.9],[2,-1.72,-0.34,1.16,1.38],[1,0.03,0.26,0.93,1.04]];

// ---- styles ----
const INK = '#231f20', RED = '#ed1c24', DARK = '#6e1f22';
const YELLOW = '#ffde00', PINK = '#ea4b9b', BLACK = '#231f20', CHOC = '#9a2c31';
const FA = '"Liberation Sans", Arial, sans-serif';
const FB = '"DejaVu Sans", sans-serif';
const STYLE = {
  A: { fam: FA, size: 21, xPad: 1, yPad: 2, y2Pad: 3 },
  B: { fam: FB, size: 19, xPad: 2, yPad: 2, y2Pad: 4 }
};

const panels = [
  { rect: [60, 66, 327, 337], hz: hzTicksA, ev: evTicks12, evMax: 12, rate: aBananaRate, spikes: aBananaSpikes, color: YELLOW, st: 'A', right: DARK },
  { rect: [412, 66, 680, 337], hz: hzTicksA, ev: evTicks20, evMax: 22, rate: aPlainRate, spikes: aPlainSpikes, color: BLACK, st: 'A', right: RED },
  { rect: [60, 444, 327, 717], hz: hzTicksA, ev: evTicks15, evMax: 19, rate: aCherryRate, spikes: aCherrySpikes, color: PINK, st: 'A', right: DARK },
  { rect: [412, 444, 679, 717], hz: hzTicksA, ev: evTicks15, evMax: 16, rate: aChocRate, spikes: aChocSpikes, color: CHOC, st: 'A', right: RED },
  { rect: [929, 66, 1197, 338], hz: hzTicksB, ev: evTicks20, evMax: 20, rate: bBananaRate, spikes: bBananaSpikes, color: YELLOW, st: 'B', right: DARK },
  { rect: [1281, 66, 1548, 338], hz: hzTicksB, ev: evTicks30, evMax: 31, rate: bPlainRate, spikes: bPlainSpikes, color: BLACK, st: 'B', right: DARK },
  { rect: [929, 445, 1197, 717], hz: hzTicksB, ev: evTicks25, evMax: 29, rate: bCherryRate, spikes: bCherrySpikes, color: PINK, st: 'B', right: DARK },
  { rect: [1281, 445, 1548, 717], hz: hzTicksB, ev: evTicks25, evMax: 25, rate: bChocRate, spikes: bChocSpikes, color: CHOC, st: 'B', right: DARK },
  { rect: [56, 879, 323, 1152], hz: hzTicksC, ev: evTicks20, evMax: 20, rate: cBananaRate, spikes: cBananaSpikes, color: YELLOW, st: 'A', right: DARK },
  { rect: [408, 879, 676, 1152], hz: hzTicksC, ev: evTicks30, evMax: 31, rate: cPlainRate, spikes: cPlainSpikes, color: BLACK, st: 'A', right: RED },
  { rect: [56, 1258, 323, 1531], hz: hzTicksC, ev: evTicks25, evMax: 29, rate: cCherryRate, spikes: cCherrySpikes, color: PINK, st: 'A', right: DARK },
  { rect: [408, 1258, 676, 1531], hz: hzTicksC, ev: evTicks25, evMax: 25, rate: cChocRate, spikes: cChocSpikes, color: CHOC, st: 'A', right: DARK },
  { rect: [931, 880, 1198, 1151], hz: hzTicksD, ev: evTicks25, evMax: 29, rate: dBananaRate, spikes: dBananaSpikes, color: YELLOW, st: 'B', right: DARK },
  { rect: [1283, 880, 1550, 1152], hz: hzTicksD, ev: evTicks35, evMax: 35, rate: dPlainRate, spikes: dPlainSpikes, color: BLACK, st: 'B', right: DARK },
  { rect: [931, 1259, 1198, 1530], hz: hzTicksD, ev: evTicks25, evMax: 26, rate: dCherryRate, spikes: dCherrySpikes, color: PINK, st: 'B', right: DARK },
  { rect: [1283, 1259, 1550, 1530], hz: hzTicksD, ev: evTicks25, evMax: 29, rate: dChocRate, spikes: dChocSpikes, color: CHOC, st: 'B', right: DARK }
];

const fmt = v => (v < 0 ? '\u2212' + (-v) : String(v));

// box with inward ticks, like the matlab plotyy frame
const framePlugin = {
  id: 'frame',
  afterDraw(chart, args, opts) {
    const { ctx, chartArea: a, scales } = chart;
    const tl = 4;
    ctx.save();
    ctx.lineWidth = 1.5;
    const seg = (x1, y1, x2, y2, c) => {
      ctx.strokeStyle = c;
      ctx.beginPath(); ctx.moveTo(x1, y1); ctx.lineTo(x2, y2); ctx.stroke();
    };
    scales.y.ticks.forEach(t => {
      const py = scales.y.getPixelForValue(t.value);
      seg(a.left, py, a.left + tl, py, RED);
      seg(a.right, py, a.right - tl, py, RED);
    });
    scales.y2.ticks.forEach(t => {
      const py = scales.y2.getPixelForValue(t.value);
      seg(a.right, py, a.right - tl, py, INK);
    });
    scales.x.ticks.forEach(t => {
      const px = scales.x.getPixelForValue(t.value);
      seg(px, a.top, px, a.top + tl, INK);
      seg(px, a.bottom, px, a.bottom - tl, INK);
    });
    seg(a.left, a.top, a.right, a.top, INK);
    seg(a.left, a.bottom, a.right, a.bottom, INK);
    seg(a.right, a.top - 0.75, a.right, a.bottom + 0.75, opts.right || INK);
    seg(a.left, a.top - 0.75, a.left, a.bottom + 0.75, RED);
    ctx.restore();
  }
};

function makePanel(p) {
  const [x0, y0, x1, y1] = p.rect;
  const L = 50, R = 50, T = 20, B = 30;
  const st = STYLE[p.st];
  const w = x1 - x0 + L + R, h = y1 - y0 + T + B;
  const c = document.createElement('canvas');
  c.className = 'plot';
  c.width = w; c.height = h;
  c.style.left = (x0 - L) + 'px';
  c.style.top = (y0 - T) + 'px';
  c.style.width = w + 'px';
  c.style.height = h + 'px';
  document.body.appendChild(c);

  const tickFont = { family: st.fam, size: st.size };
  const noGrid = { display: false, drawTicks: false };
  const rasterPts = [];
  p.spikes.forEach(row => {
    for (let i = 1; i < row.length; i++) rasterPts.push({ x: row[i], y: row[0] });
  });

  new Chart(c, {
    type: 'line',
    data: {
      datasets: [
        {
          type: 'scatter', data: rasterPts, yAxisID: 'y2',
          pointStyle: 'rect', pointRadius: 1.3, pointBackgroundColor: INK,
          pointBorderWidth: 0, order: 0, clip: 1
        },
        {
          type: 'line', data: p.rate.map(([x, y]) => ({ x, y })), yAxisID: 'y',
          borderColor: p.color, borderWidth: 13, pointRadius: 0,
          cubicInterpolationMode: 'monotone', borderJoinStyle: 'round',
          fill: false, order: 1, clip: 0
        }
      ]
    },
    options: {
      responsive: false,
      animation: false,
      events: [],
      devicePixelRatio: 1,
      layout: { padding: { top: T, left: 0, right: 0, bottom: 0 } },
      plugins: {
        legend: { display: false },
        tooltip: { enabled: false },
        frame: { right: p.right }
      },
      scales: {
        x: {
          type: 'linear', min: -2, max: 4,
          grid: noGrid, border: { display: false },
          afterBuildTicks: s => { s.ticks = timeTicks.map(v => ({ value: v })); },
          afterFit: s => { s.height = B; },
          ticks: { font: tickFont, color: INK, padding: st.xPad, maxRotation: 0, autoSkip: false, callback: v => fmt(v) }
        },
        y: {
          type: 'linear', position: 'left', min: 0, max: p.hz[p.hz.length - 1],
          grid: noGrid, border: { display: false },
          afterBuildTicks: s => { s.ticks = p.hz.map(v => ({ value: v })); },
          afterFit: s => { s.width = L; },
          ticks: { font: tickFont, color: RED, padding: st.yPad, autoSkip: false, callback: v => fmt(v) }
        },
        y2: {
          type: 'linear', position: 'right', min: 0, max: p.evMax,
          grid: noGrid, border: { display: false },
          afterBuildTicks: s => { s.ticks = p.ev.map(v => ({ value: v })); },
          afterFit: s => { s.width = R; },
          ticks: { font: tickFont, color: INK, padding: st.y2Pad, autoSkip: false, callback: v => fmt(v) }
        }
      }
    },
    plugins: [framePlugin]
  });
}

panels.forEach(makePanel);

// ---- text ----
function addText(str, x, y, size, fam, color, rot) {
  const d = document.createElement('div');
  d.className = 'txt';
  d.textContent = str;
  d.style.fontSize = size + 'px';
  d.style.fontFamily = fam;
  d.style.color = color;
  d.style.left = x + 'px';
  if (rot) {
    d.style.top = y + 'px';
    d.style.transform = 'translate(-50%,-50%) rotate(-90deg)';
  } else {
    d.style.top = (y - 0.85 * size) + 'px';
    d.style.transform = 'translateX(-50%)';
  }
  document.body.appendChild(d);
}

const YA = 'Gaussian smoothed activity (Hz)';
const YC = 'Gaussian Smoothed Activity (Hz)';
const XT = 'Reward triggered at 0 (s)';
const EV = 'Event #';

// a
addText('a', 25, 35, 42, FA, INK);
addText('R234\u22122011\u221212\u221207\u2212TT08_1', 203, 29.5, 21, FA, INK);
addText('Reward site (banana)', 196, 51, 21, FA, INK);
addText('Reward site (plain)', 532, 51, 21, FA, INK);
addText('Reward site (cherry)', 201, 431, 21, FA, INK);
addText('Reward site (chocolate)', 545, 431, 21, FA, INK);
addText(XT, 201, 757, 21, FA, INK);
addText(XT, 553, 757, 21, FA, INK);
addText(YA, 20, 205, 21, FA, RED, true);
addText(YA, 20, 567, 21, FA, RED, true);
addText(EV, 715, 198, 21, FA, INK, true);
addText(EV, 715, 577, 21, FA, INK, true);

// b
addText('b', 883, 29, 41, FA, INK);
addText('R222\u22122011\u221208\u221205\u2212TT07_3', 1073, 30, 18.5, FB, INK);
addText('Reward site (banana)', 1066, 52, 18.8, FB, INK);
addText('Reward site 3 (plain)', 1410, 52, 18.8, FB, INK);
addText('Reward site (cherry)', 1071, 430, 18.8, FB, INK);
addText('Reward site (chocolate)', 1414, 430, 18.8, FB, INK);
addText(XT, 1071, 759, 18.8, FB, INK);
addText(XT, 1423, 759, 18.8, FB, INK);
addText(YA, 899, 211, 21, FA, RED, true);
addText(YA, 899, 568, 21, FA, RED, true);
addText(EV, 1584, 199, 21, FA, INK, true);
addText(EV, 1584, 577, 21, FA, INK, true);

// c
addText('c', 24, 850, 42, FA, INK);
addText('R222\u22122011\u221208\u221205\u2212TT12_11', 200, 842, 21, FA, INK);
addText('Reward site (banana)', 193, 863, 21, FA, INK);
addText('Reward site (plain)', 529, 863, 21, FA, INK);
addText('Reward site (cherry)', 198, 1243, 21, FA, INK);
addText('Reward site (chocolate)', 542, 1243, 21, FA, INK);
addText(XT, 197.5, 1571, 21, FA, INK);
addText(XT, 550, 1571, 21, FA, INK);
addText(YC, 26, 1027, 21, FA, RED, true);
addText(YC, 26, 1380, 21, FA, RED, true);
addText(EV, 711, 1012, 21, FA, INK, true);
addText(EV, 711, 1392, 21, FA, INK, true);

// d
addText('d', 882, 849.5, 41, FA, INK);
addText('R222\u22122011\u221207\u221231\u2212TT12_1', 1075, 841, 18.5, FB, INK);
addText('Reward site (banana)', 1067, 864, 18.8, FB, INK);
addText('Reward site (plain)', 1403, 864, 18.8, FB, INK);
addText('Reward site (cherry)', 1073, 1244, 18.8, FB, INK);
addText('Reward site (chocolate)', 1416, 1244, 18.8, FB, INK);
addText(XT, 1073, 1571, 18.8, FB, INK);
addText(XT, 1424, 1571, 18.8, FB, INK);
addText(YA, 901, 1030, 21, FA, RED, true);
addText(YA, 901, 1383, 21, FA, RED, true);
addText(EV, 1586, 1012, 21, FA, INK, true);
addText(EV, 1586, 1389, 21, FA, INK, true);
</script>
</body>
</html>
